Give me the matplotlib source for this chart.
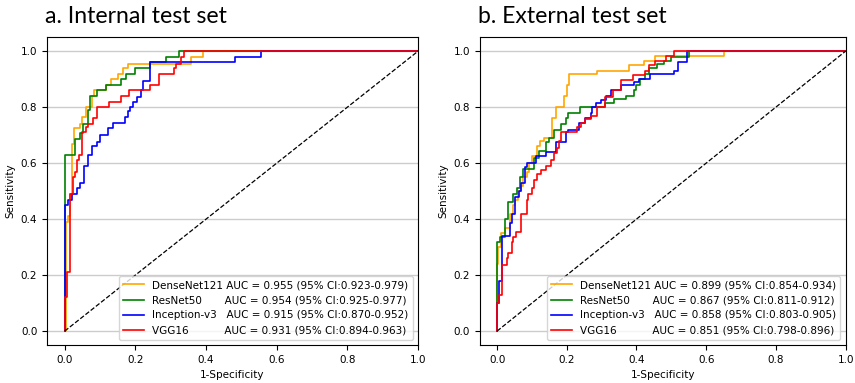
import matplotlib
matplotlib.use("Agg")
import matplotlib.pyplot as plt

plt.rcParams.update({'font.size': 7.5})

models = ['DenseNet121', 'ResNet50', 'Inception-v3', 'VGG16']
colors = ['orange', 'green', 'blue', 'red']

# internal test set (steps: at fpr x the tpr rises to y)
int_fpr = [
    [0, 0.003, 0.008, 0.014, 0.02, 0.027, 0.042, 0.05, 0.061, 0.076, 0.082, 0.118, 0.13, 0.15, 0.164, 0.178, 0.356, 0.39, 1.0],
    [0, 0, 0.028, 0.042, 0.052, 0.066, 0.071, 0.09, 0.118, 0.16, 0.173, 0.2, 0.24, 0.288, 0.323, 1.0],
    [0, 0, 0.008, 0.02, 0.036, 0.043, 0.055, 0.066, 0.076, 0.09, 0.099, 0.123, 0.137, 0.17, 0.178, 0.184, 0.193, 0.206, 0.217, 0.222, 0.241, 0.482, 0.555, 1.0],
    [0, 0, 0.007, 0.014, 0.024, 0.03, 0.036, 0.041, 0.049, 0.059, 0.066, 0.08, 0.09, 0.124, 0.16, 0.182, 0.241, 0.266, 0.309, 0.316, 0.33, 0.337, 1.0],
]
int_tpr = [
    [0, 0.39, 0.41, 0.49, 0.67, 0.725, 0.74, 0.765, 0.80, 0.84, 0.86, 0.88, 0.90, 0.92, 0.94, 0.955, 0.98, 1.0, 1.0],
    [0, 0.63, 0.686, 0.707, 0.74, 0.79, 0.84, 0.86, 0.88, 0.90, 0.92, 0.94, 0.96, 0.98, 1.0, 1.0],
    [0, 0.45, 0.47, 0.49, 0.51, 0.53, 0.59, 0.63, 0.66, 0.675, 0.70, 0.725, 0.745, 0.765, 0.785, 0.80, 0.82, 0.835, 0.86, 0.895, 0.96, 0.98, 1.0, 1.0],
    [0, 0.12, 0.21, 0.49, 0.55, 0.57, 0.61, 0.63, 0.71, 0.73, 0.74, 0.76, 0.80, 0.82, 0.84, 0.86, 0.88, 0.92, 0.94, 0.955, 0.98, 1.0, 1.0],
]
int_auc = ['0.955 (95% CI:0.923-0.979)', '0.954 (95% CI:0.925-0.977)',
           '0.915 (95% CI:0.870-0.952)', '0.931 (95% CI:0.894-0.963)']

# external test set
ext_fpr = [
    [0, 0, 0.004, 0.011, 0.022, 0.037, 0.045, 0.051, 0.059, 0.068, 0.073, 0.085, 0.093, 0.099, 0.115, 0.124, 0.135, 0.158, 0.169, 0.192, 0.2, 0.206, 0.288, 0.379, 0.421, 0.453, 0.65, 1.0],
    [0, 0, 0.008, 0.023, 0.031, 0.045, 0.056, 0.065, 0.073, 0.107, 0.121, 0.141, 0.149, 0.163, 0.183, 0.198, 0.203, 0.239, 0.31, 0.335, 0.369, 0.394, 0.4, 0.411, 0.425, 0.437, 0.459, 0.479, 0.5, 0.55, 1.0],
    [0, 0, 0.006, 0.014, 0.037, 0.042, 0.051, 0.062, 0.07, 0.079, 0.085, 0.113, 0.141, 0.169, 0.197, 0.203, 0.234, 0.251, 0.27, 0.273, 0.285, 0.299, 0.313, 0.327, 0.355, 0.394, 0.408, 0.439, 0.507, 0.52, 0.545, 1.0],
    [0, 0, 0.006, 0.014, 0.028, 0.031, 0.042, 0.045, 0.054, 0.07, 0.085, 0.09, 0.099, 0.107, 0.115, 0.127, 0.141, 0.155, 0.163, 0.172, 0.178, 0.183, 0.228, 0.242, 0.251, 0.27, 0.287, 0.31, 0.333, 0.355, 0.389, 0.423, 0.437, 0.454, 0.485, 0.507, 1.0],
]
ext_tpr = [
    [0, 0.24, 0.30, 0.35, 0.37, 0.42, 0.45, 0.47, 0.50, 0.52, 0.55, 0.57, 0.60, 0.625, 0.66, 0.68, 0.69, 0.76, 0.80, 0.84, 0.88, 0.92, 0.93, 0.95, 0.965, 0.982, 1.0, 1.0],
    [0, 0.32, 0.335, 0.40, 0.46, 0.49, 0.51, 0.55, 0.58, 0.62, 0.645, 0.675, 0.69, 0.72, 0.74, 0.76, 0.78, 0.80, 0.815, 0.83, 0.84, 0.86, 0.88, 0.90, 0.92, 0.94, 0.955, 0.965, 0.98, 1.0, 1.0],
    [0, 0.10, 0.18, 0.34, 0.385, 0.42, 0.48, 0.50, 0.53, 0.585, 0.60, 0.625, 0.64, 0.675, 0.71, 0.72, 0.745, 0.76, 0.78, 0.80, 0.815, 0.825, 0.84, 0.86, 0.88, 0.89, 0.90, 0.92, 0.93, 0.96, 1.0, 1.0],
    [0, 0.10, 0.13, 0.235, 0.26, 0.28, 0.32, 0.335, 0.355, 0.42, 0.47, 0.49, 0.51, 0.54, 0.56, 0.575, 0.59, 0.61, 0.635, 0.655, 0.68, 0.71, 0.73, 0.745, 0.757, 0.77, 0.80, 0.835, 0.86, 0.896, 0.915, 0.93, 0.95, 0.966, 0.982, 1.0, 1.0],
]
ext_auc = ['0.899 (95% CI:0.854-0.934)', '0.867 (95% CI:0.811-0.912)',
           '0.858 (95% CI:0.803-0.905)', '0.851 (95% CI:0.798-0.896)']

# padding so the "AUC" column lines up like the original
pads = [' ', '       ', '   ', '           ']

fig = plt.figure(figsize=(8.55, 3.83), dpi=100)
ax1 = fig.add_axes([0.055, 0.099, 0.434, 0.804])
ax2 = fig.add_axes([0.561, 0.099, 0.428, 0.804])

for ax, fprs, tprs, aucs in [(ax1, int_fpr, int_tpr, int_auc), (ax2, ext_fpr, ext_tpr, ext_auc)]:
    for i in range(4):
        ax.step(fprs[i], tprs[i], where='post', color=colors[i], linewidth=1.2,
                label=models[i] + pads[i] + 'AUC = ' + aucs[i])
    ax.plot([0, 1], [0, 1], 'k--', linewidth=0.9)
    ax.set_xlim(-0.05, 1.0)
    ax.set_ylim(-0.05, 1.05)
    ax.set_xticks([0, 0.2, 0.4, 0.6, 0.8, 1.0])
    ax.set_yticks([0, 0.2, 0.4, 0.6, 0.8, 1.0])
    ax.grid(axis='y', color='#cccccc', linewidth=1)
    ax.set_axisbelow(True)
    ax.set_xlabel('1-Specificity')
    ax.set_ylabel('Sensitivity')
    ax.legend(loc='lower right', fontsize=7.5)

fig.text(45/855, 1 - 6/383, 'a. Internal test set', family='Lato', fontsize=16.6, ha='left', va='top')
fig.text(478/855, 1 - 6/383, 'b. External test set', family='Lato', fontsize=16.6, ha='left', va='top')

plt.savefig('out.png', dpi=100)
